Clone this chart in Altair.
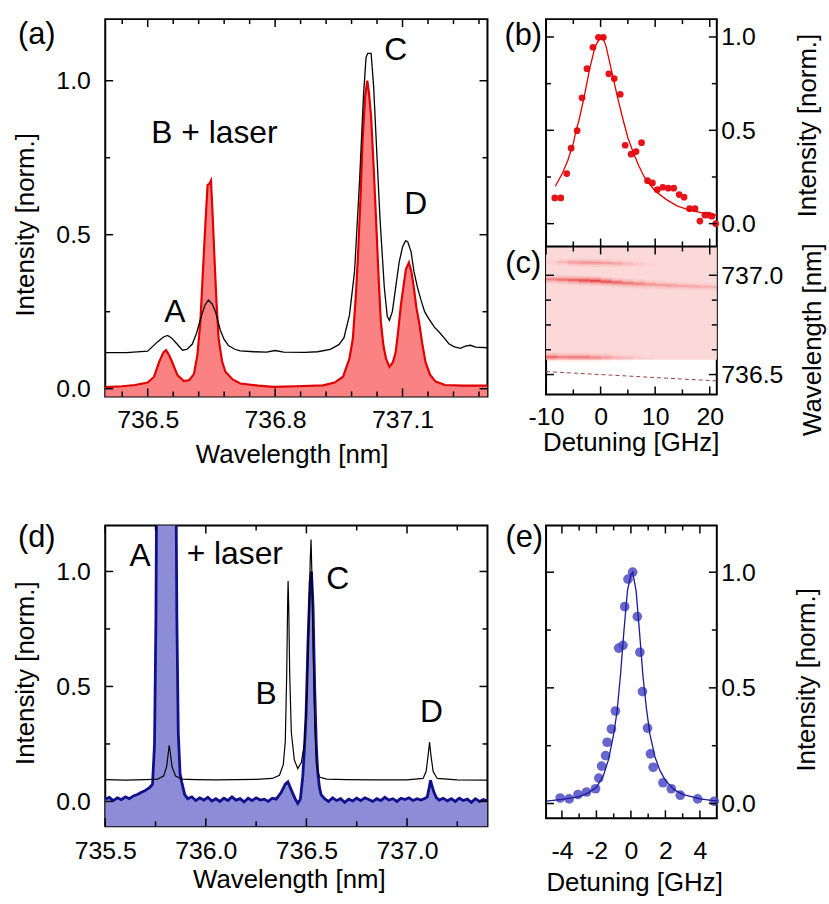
import altair as alt
import pandas as pd

FONT = "Liberation Sans"
RED = "#e00000"
RED_FILL = "#fa8282"
DOT_RED = "#e8141b"
BLUE = "#10108c"
BLUE_FILL = "#8c8cd7"
DOT_BLUE = "#4b4bc3"
LMAJ = 8
LMIN = 5

# ---------------- panel (a) data ----------------
a_black_x = [736.400, 736.450, 736.500, 736.523, 736.537, 736.547, 736.556, 736.566, 736.582, 736.593,
             736.605, 736.615, 736.624, 736.635, 736.643, 736.652, 736.660, 736.671, 736.680, 736.690,
             736.705, 736.718, 736.750, 736.780, 736.800, 736.820, 736.870, 736.900, 736.930, 736.950,
             736.962, 736.975, 736.987, 736.999, 737.008, 737.014, 737.018, 737.026, 737.032, 737.040,
             737.047, 737.057, 737.064, 737.069, 737.076, 737.084, 737.092, 737.100, 737.107, 737.112,
             737.120, 737.127, 737.135, 737.143, 737.152, 737.162, 737.175, 737.186, 737.198, 737.209,
             737.222, 737.236, 737.248, 737.260, 737.272, 737.300]
a_black_y = [0.117, 0.117, 0.122, 0.152, 0.168, 0.173, 0.165, 0.150, 0.125, 0.128,
             0.145, 0.180, 0.225, 0.272, 0.288, 0.275, 0.248, 0.190, 0.160, 0.140,
             0.128, 0.123, 0.120, 0.119, 0.124, 0.119, 0.118, 0.120, 0.128, 0.143,
             0.165, 0.238, 0.380, 0.680, 0.950, 1.075, 1.089, 1.089, 0.980, 0.750,
             0.550, 0.330, 0.235, 0.222, 0.250, 0.330, 0.410, 0.460, 0.480, 0.478,
             0.445, 0.380, 0.330, 0.290, 0.250, 0.227, 0.200, 0.184, 0.165, 0.146,
             0.136, 0.131, 0.138, 0.141, 0.135, 0.133]
a_red_x = [736.400, 736.440, 736.470, 736.500, 736.515, 736.527, 736.537, 736.543, 736.550, 736.558,
           736.570, 736.585, 736.598, 736.609, 736.617, 736.624, 736.630, 736.636, 736.641, 736.645,
           736.649, 736.653, 736.657, 736.662, 736.667, 736.675, 736.683, 736.700, 736.718, 736.760,
           736.796, 736.850, 736.913, 736.940, 736.960, 736.975, 736.983, 736.990, 736.995, 737.001,
           737.006, 737.012, 737.017, 737.021, 737.026, 737.032, 737.038, 737.044, 737.049, 737.055,
           737.061, 737.069, 737.077, 737.084, 737.090, 737.096, 737.102, 737.108, 737.115, 737.121,
           737.127, 737.133, 737.139, 737.146, 737.154, 737.165, 737.178, 737.200, 737.240, 737.300]
a_red_y = [0.005, 0.008, 0.012, 0.020, 0.039, 0.087, 0.118, 0.125, 0.110, 0.085,
           0.044, 0.025, 0.028, 0.048, 0.110, 0.216, 0.380, 0.540, 0.662, 0.665,
           0.676, 0.560, 0.430, 0.280, 0.162, 0.090, 0.055, 0.030, 0.017, 0.010,
           0.006, 0.008, 0.011, 0.020, 0.039, 0.098, 0.162, 0.300, 0.430, 0.620,
           0.807, 0.950, 1.000, 0.960, 0.883, 0.720, 0.539, 0.350, 0.216, 0.140,
           0.098, 0.071, 0.085, 0.119, 0.190, 0.270, 0.330, 0.388, 0.410, 0.380,
           0.324, 0.260, 0.216, 0.150, 0.087, 0.045, 0.023, 0.012, 0.010, 0.010]
a_txt = ["A", "B + laser", "C", "D"]
a_txt_x = [736.564, 736.657, 737.084, 737.131]
a_txt_y = [0.248, 0.829, 1.098, 0.598]
a_xmaj = [736.5, 736.8, 737.1]
a_xmin = [736.44, 736.56, 736.62, 736.68, 736.74, 736.86, 736.92, 736.98, 737.04, 737.16, 737.22, 737.28]

# ---------------- panel (b) data ----------------
b_pts_x = [-8.4, -7.3, -6.2, -5.4, -4.3, -3.4, -2.5, -1.4, -0.4, 0.5, 1.5, 2.5, 3.6, 4.5, 5.6, 6.5,
           7.5, 8.6, 9.5, 10.4, 11.4, 12.4, 13.4, 14.4, 15.3, 16.3, 17.3, 18.2, 19.1, 19.8, 20.4, 21.1]
b_pts_y = [0.138, 0.138, 0.268, 0.404, 0.498, 0.674, 0.830, 0.945, 0.998, 0.998, 0.803, 0.777, 0.693,
           0.420, 0.372, 0.386, 0.434, 0.230, 0.218, 0.182, 0.195, 0.190, 0.190, 0.156, 0.142, 0.080,
           0.080, 0.014, 0.046, 0.046, 0.040, 0.000]
b_fit_x = [-8.3, -7, -6, -5, -4.5, -4, -3, -2, -1, 0, 0.5, 1, 2, 3, 4, 5, 6, 7, 8, 9, 10, 12, 14, 16,
           18, 20, 21.3]
b_fit_y = [0.20, 0.27, 0.34, 0.43, 0.50, 0.55, 0.68, 0.83, 0.95, 1.00, 0.99, 0.95, 0.82, 0.69, 0.57,
           0.46, 0.38, 0.31, 0.25, 0.21, 0.175, 0.13, 0.095, 0.075, 0.062, 0.05, 0.045]

# ---------------- panel (c) data ----------------
c_edges = [-10, -8, -6, -4, -2, 0, 2, 4, 6, 8, 10, 12, 14, 16, 18, 20, 21.3]
c_main_y = [736.980, 736.978, 736.976, 736.974, 736.972, 736.968, 736.964, 736.960, 736.957, 736.954,
            736.951, 736.948, 736.946, 736.944, 736.942, 736.940]
c_main_v = [0.45, 0.55, 0.70, 0.85, 0.90, 0.80, 0.65, 0.55, 0.45, 0.35, 0.30, 0.28, 0.25, 0.22, 0.20, 0.18]
c_top_y = [737.067, 737.066, 737.065, 737.064, 737.063, 737.062, 737.060, 737.058, 737.056, 737.054,
           737.052, 737.050, 737.048, 737.046, 737.044, 737.042]
c_top_v = [0.05, 0.15, 0.30, 0.35, 0.35, 0.30, 0.25, 0.15, 0.08, 0.03, 0.0, 0.0, 0.0, 0.0, 0.0, 0.0]
c_bot_y = [736.588, 736.588, 736.587, 736.587, 736.586, 736.586, 736.585, 736.585, 736.585, 736.585,
           736.585, 736.585, 736.585, 736.585, 736.585, 736.585]
c_bot_v = [0.65, 0.45, 0.50, 0.50, 0.40, 0.30, 0.18, 0.12, 0.06, 0.03, 0.0, 0.0, 0.0, 0.0, 0.0, 0.0]
c_region_x = [-10, 21.3]
c_region_y = [736.575, 737.145]
c_laser_x = [-10, 21.3]
c_laser_y = [736.515, 736.468]
bc_xmaj = [-10, 0, 10, 20]
bc_xmin = [-5, 5, 15]
c_ymaj = [736.5, 737.0]
c_ymin = [736.625, 736.75, 736.875]

# ---------------- panel (d) data ----------------
d_black_x = [735.500, 735.600, 735.700, 735.760, 735.790, 735.805, 735.814, 735.818, 735.823, 735.832,
             735.850, 735.880, 735.950, 736.050, 736.150, 736.250, 736.330, 736.366, 736.385, 736.395,
             736.402, 736.407, 736.409, 736.412, 736.417, 736.425, 736.440, 736.457, 736.475, 736.490,
             736.503, 736.512, 736.519, 736.523, 736.527, 736.533, 736.541, 736.550, 736.565, 736.600,
             736.700, 736.850, 737.000, 737.080, 737.095, 737.105, 737.112, 737.119, 737.130, 737.150,
             737.250, 737.400]
d_black_y = [0.095, 0.093, 0.095, 0.097, 0.110, 0.150, 0.215, 0.244, 0.215, 0.150,
             0.110, 0.097, 0.095, 0.094, 0.095, 0.096, 0.100, 0.114, 0.160, 0.260,
             0.550, 0.880, 0.958, 0.850, 0.550, 0.300, 0.180, 0.143, 0.170, 0.250,
             0.480, 0.780, 1.050, 1.139, 1.000, 0.700, 0.350, 0.160, 0.106, 0.097,
             0.095, 0.094, 0.094, 0.100, 0.130, 0.200, 0.258, 0.200, 0.130, 0.100,
             0.094, 0.093]
d_blue_x = [735.50, 735.52, 735.54, 735.56, 735.58, 735.60, 735.62, 735.64, 735.66, 735.68,
            735.70, 735.72, 735.735, 735.745, 735.752, 735.757, 735.850, 735.856, 735.863, 735.872,
            735.880, 735.895, 735.91, 735.93, 735.95, 735.97, 735.99, 736.01, 736.03, 736.05,
            736.07, 736.09, 736.11, 736.13, 736.15, 736.17, 736.19, 736.21, 736.23, 736.25,
            736.27, 736.29, 736.31, 736.33, 736.35, 736.375, 736.395, 736.408, 736.42, 736.432,
            736.445, 736.457, 736.470, 736.482, 736.490, 736.498, 736.508, 736.518, 736.525, 736.533,
            736.541, 736.549, 736.556, 736.565, 736.573, 736.59, 736.61, 736.63, 736.65, 736.67,
            736.69, 736.71, 736.73, 736.75, 736.77, 736.79, 736.81, 736.83, 736.85, 736.87,
            736.89, 736.91, 736.93, 736.95, 736.97, 736.99, 737.01, 737.03, 737.05, 737.07,
            737.09, 737.101, 737.110, 737.117, 737.125, 737.134, 737.145, 737.16, 737.18, 737.20,
            737.22, 737.24, 737.26, 737.28, 737.30, 737.32, 737.34, 737.36, 737.38, 737.40]
d_blue_y = [0.010, 0.018, 0.004, 0.016, 0.008, 0.020, 0.012, 0.024, 0.030, 0.040,
            0.048, 0.060, 0.075, 0.250, 0.800, 1.600, 1.600, 0.800, 0.300, 0.120,
            0.085, 0.030, 0.012, 0.020, 0.004, 0.016, 0.006, 0.018, 0.002, 0.012,
            0.000, 0.014, 0.004, 0.020, 0.006, 0.012, -0.002, 0.014, 0.004, 0.016,
            0.006, 0.010, 0.000, 0.014, 0.010, 0.040, 0.075, 0.085, 0.060, 0.035,
            0.010, -0.009, 0.010, 0.110, 0.230, 0.370, 0.700, 0.950, 1.000, 0.850,
            0.500, 0.250, 0.130, 0.060, 0.030, 0.012, 0.000, 0.016, 0.004, 0.012,
            -0.004, 0.010, 0.002, 0.014, 0.004, 0.016, 0.008, 0.000, 0.012, 0.004,
            0.018, 0.006, 0.012, 0.000, 0.014, 0.008, 0.016, 0.004, 0.012, 0.006,
            0.014, 0.020, 0.060, 0.092, 0.065, 0.040, 0.018, 0.006, 0.014, 0.002,
            0.012, 0.000, 0.014, 0.004, 0.010, -0.004, 0.012, 0.000, 0.008, 0.002]
d_txt = ["A", "+ laser", "B", "C", "D"]
d_txt_x = [735.673, 736.144, 736.300, 736.655, 737.122]
d_txt_y = [1.065, 1.074, 0.468, 0.965, 0.388]
d_xmaj = [735.5, 736.0, 736.5, 737.0]
d_xmin = [735.75, 736.25, 736.75, 737.25]

# ---------------- panel (e) data ----------------
e_pts_x = [-4.1, -3.58, -3.07, -2.57, -2.05, -1.86, -1.7, -1.47, -1.38, -1.13, -0.9, -0.71, -0.46,
           -0.36, -0.17, 0.1, 0.37, 0.52, 0.67, 0.96, 1.13, 1.29, 1.86, 2.34, 2.86, 3.87, 4.83]
e_pts_y = [0.024, 0.020, 0.039, 0.050, 0.064, 0.110, 0.162, 0.207, 0.265, 0.322, 0.400, 0.672, 0.684,
           0.851, 0.970, 1.000, 0.808, 0.654, 0.484, 0.326, 0.215, 0.157, 0.090, 0.064, 0.036, 0.020, 0.010]
e_fit_x = [-4.9, -4, -3, -2.5, -2, -1.6, -1.3, -1.0, -0.8, -0.6, -0.4, -0.2, 0, 0.1, 0.3, 0.5, 0.7,
           0.9, 1.1, 1.4, 1.7, 2, 2.5, 3, 4, 5]
e_fit_y = [0.010, 0.018, 0.030, 0.045, 0.070, 0.120, 0.190, 0.300, 0.400, 0.560, 0.750, 0.920, 0.990,
           1.000, 0.920, 0.740, 0.550, 0.410, 0.300, 0.200, 0.140, 0.100, 0.060, 0.040, 0.020, 0.010]
e_xmaj = [-4, -2, 0, 2, 4]
e_xmin = [-3, -1, 1, 3]

y_maj = [0.0, 0.5, 1.0]
y_min = [0.25, 0.75]
panel_labels = ["(a)", "(b)", "(c)", "(d)", "(e)"]


def lab_axis(orient, values, pad, title, tx, ty, fmt=".1f"):
    kw = dict(orient=orient, values=values, ticks=False, domain=False, grid=False,
              labels=True, labelPadding=pad, labelFlush=False, labelOverlap=False,
              title=title, titleX=tx, titleY=ty, titleAlign="center", titleBaseline="middle",
              titleAngle=270 if orient in ("left", "right") else 0)
    if fmt == "int":
        kw["labelExpr"] = "'' + datum.value"
    else:
        kw["format"] = fmt
    return alt.Axis(**kw)


def xtick(vals, scale, y0, y1):
    return alt.Chart(pd.DataFrame({"v": vals})).mark_rule(color="black", strokeWidth=1.5).encode(
        x=alt.X("v:Q", scale=scale, axis=None), y=alt.value(y0), y2=alt.value(y1))


def ytick(vals, scale, x0, x1):
    return alt.Chart(pd.DataFrame({"v": vals})).mark_rule(color="black", strokeWidth=1.5).encode(
        y=alt.Y("v:Q", scale=scale, axis=None), x=alt.value(x0), x2=alt.value(x1))


def xticks_edges(vmaj, vmin, scale, H):
    out = []
    for vals, L in ((vmaj, LMAJ), (vmin, LMIN)):
        out += [xtick(vals, scale, H, H - L), xtick(vals, scale, 0, L)]
    return out


def yticks_edges(vmaj, vmin, scale, W):
    out = []
    for vals, L in ((vmaj, LMAJ), (vmin, LMIN)):
        out += [ytick(vals, scale, 0, L), ytick(vals, scale, W, W - L)]
    return out


def plabel(text, dx, dy):
    return alt.Chart(pd.DataFrame({"t": [text]})).mark_text(
        font=FONT, fontSize=31, color="black", align="center", baseline="middle"
    ).encode(x=alt.value(dx), y=alt.value(dy), text="t:N")


def X0(s):
    return alt.X("x:Q", scale=s, axis=None)


def Y0(s, f="y"):
    return alt.Y(f + ":Q", scale=s, axis=None)


# ================= panel (a) =================
WA, HA = 385, 380
xa = alt.Scale(domain=[736.4, 737.3], nice=False, zero=False)
ya = alt.Scale(domain=[-0.025, 1.2], nice=False, zero=False)
dfa_b = pd.DataFrame({"x": a_black_x, "y": a_black_y})
dfa_r = pd.DataFrame({"x": a_red_x, "y": a_red_y})
dfa_t = pd.DataFrame({"x": a_txt_x, "y": a_txt_y, "t": a_txt})

pa = alt.layer(
    alt.Chart(dfa_r).mark_area(color=RED_FILL, clip=True).encode(x=X0(xa), y=Y0(ya), y2=alt.datum(-0.2)),
    alt.Chart(dfa_r).mark_line(color=RED, strokeWidth=2.2, clip=True).encode(x=X0(xa), y=Y0(ya)),
    alt.Chart(dfa_b).mark_line(color="black", strokeWidth=1.3, clip=True).encode(x=X0(xa), y=Y0(ya)),
    alt.Chart(dfa_t).mark_text(font=FONT, fontSize=32, color="black").encode(x=X0(xa), y=Y0(ya), text="t:N"),
    plabel(panel_labels[0], -69, 16.5),
    *xticks_edges(a_xmaj, a_xmin, xa, HA),
    *yticks_edges(y_maj, y_min, ya, WA),
    alt.Chart(dfa_b).mark_point(opacity=0, size=1).encode(
        x=alt.X("x:Q", scale=xa, axis=lab_axis("bottom", a_xmaj, 11, "Wavelength [nm]", 187.7, 58.3)),
        y=alt.Y("y:Q", scale=ya, axis=lab_axis("left", y_maj, 15, "Intensity [norm.]", -80, 206.7))),
).resolve_axis(x="independent", y="independent").properties(width=WA, height=HA)

# ================= panel (b)+(c) =================
WB, HB = 172, 378
SPLIT = 149  # height of the (c) part
YS = HB - SPLIT
xbc = alt.Scale(domain=[-10, 21.3], nice=False, zero=False)
yb = alt.Scale(domain=[-0.9149, 1.0957], nice=False, zero=False)
yc = alt.Scale(domain=[736.4, 738.29], nice=False, zero=False)
dfb_p = pd.DataFrame({"x": b_pts_x, "yb": b_pts_y})
dfb_f = pd.DataFrame({"x": b_fit_x, "yb": b_fit_y})
seg_rows = []
for ys_, vs_ in ((c_main_y, c_main_v), (c_top_y, c_top_v), (c_bot_y, c_bot_v)):
    for i in range(len(vs_)):
        seg_rows.append({"x": c_edges[i], "x1": c_edges[i + 1], "yc": ys_[i], "v": vs_[i]})
dfc_s = pd.DataFrame(seg_rows)
dfc_bg = pd.DataFrame({"x": [c_region_x[0]], "x1": [c_region_x[1]],
                       "y0": [c_region_y[0]], "y1": [c_region_y[1]]})
dfc_l = pd.DataFrame({"x": c_laser_x, "yc": c_laser_y})


def streak(half, factor):
    return alt.Chart(dfc_s).transform_calculate(
        lo=f"datum.yc - {half}", hi=f"datum.yc + {half}", op=f"datum.v * {factor}"
    ).mark_rect(color="#e41a1a", strokeWidth=0).encode(
        x=X0(xbc), x2="x1:Q",
        y=alt.Y("lo:Q", scale=yc, axis=None), y2="hi:Q",
        opacity=alt.Opacity("op:Q", scale=None))


bc_ticks = []
for vals, L in ((bc_xmaj, LMAJ), (bc_xmin, LMIN)):
    bc_ticks += [xtick(vals, xbc, 0, L), xtick(vals, xbc, HB, HB - L),
                 xtick(vals, xbc, YS, YS - L), xtick(vals, xbc, YS, YS + L)]
bc_ticks += yticks_edges(y_maj, y_min, yb, WB)
bc_ticks += yticks_edges(c_ymaj, c_ymin, yc, WB)

pbc = alt.layer(
    alt.Chart(dfc_bg).mark_rect(color="#fcd9d9", strokeWidth=0).encode(
        x=X0(xbc), x2="x1:Q", y=alt.Y("y0:Q", scale=yc, axis=None), y2="y1:Q"),
    streak(0.022, 0.18),
    streak(0.012, 0.35),
    streak(0.005, 0.6),
    alt.Chart(dfc_l).mark_line(color="#a04040", strokeWidth=1, strokeDash=[4, 3]).encode(
        x=X0(xbc), y=Y0(yc, "yc")),
    alt.Chart(dfb_p).mark_circle(color=DOT_RED, size=46, opacity=1).encode(x=X0(xbc), y=Y0(yb, "yb")),
    alt.Chart(dfb_f).mark_line(color=RED, strokeWidth=1.3).encode(x=X0(xbc), y=Y0(yb, "yb")),
    alt.Chart(dfc_bg).mark_rule(color="black", strokeWidth=2).encode(
        y=alt.Y("y1:Q", scale=yc, axis=None), x=alt.value(0), x2=alt.value(WB)),
    plabel(panel_labels[1], -23, 17),
    plabel(panel_labels[2], -23, YS + 18),
    *bc_ticks,
    alt.Chart(dfb_p).mark_point(opacity=0, size=1).encode(
        x=alt.X("x:Q", scale=xbc,
                axis=lab_axis("bottom", bc_xmaj, 10, "Detuning [GHz]", 85.3, 48, fmt="int")),
        y=alt.Y("yb:Q", scale=yb, axis=lab_axis("right", y_maj, 4, "Intensity [norm.]", 91.7, 106.7))),
    alt.Chart(dfc_l).mark_point(opacity=0, size=1).encode(
        x=alt.X("x:Q", scale=xbc, axis=None),
        y=alt.Y("yc:Q", scale=yc, axis=lab_axis("right", c_ymaj, 4, "Wavelength [nm]", 96.7, 322.3))),
).resolve_scale(y="independent").resolve_axis(x="independent", y="independent").properties(width=WB, height=HB)

# ================= panel (d) =================
HD = 303
xd = alt.Scale(domain=[735.5, 737.4], nice=False, zero=False)
yd = alt.Scale(domain=[-0.108, 1.2], nice=False, zero=False)
dfd_b = pd.DataFrame({"x": d_black_x, "y": d_black_y})
dfd_u = pd.DataFrame({"x": d_blue_x, "y": d_blue_y})
dfd_t = pd.DataFrame({"x": d_txt_x, "y": d_txt_y, "t": d_txt})

pdd = alt.layer(
    alt.Chart(dfd_u).mark_area(color=BLUE_FILL, clip=True).encode(x=X0(xd), y=Y0(yd), y2=alt.datum(-0.3)),
    alt.Chart(dfd_u).mark_line(color=BLUE, strokeWidth=2.8, clip=True).encode(x=X0(xd), y=Y0(yd)),
    alt.Chart(dfd_b).mark_line(color="black", strokeWidth=1.2, clip=True).encode(x=X0(xd), y=Y0(yd)),
    alt.Chart(dfd_t).mark_text(font=FONT, fontSize=32, color="black").encode(x=X0(xd), y=Y0(yd), text="t:N"),
    plabel(panel_labels[3], -69, 13),
    *xticks_edges(d_xmaj, d_xmin, xd, HD),
    *yticks_edges(y_maj, y_min, yd, WA),
    alt.Chart(dfd_b).mark_point(opacity=0, size=1).encode(
        x=alt.X("x:Q", scale=xd, axis=lab_axis("bottom", d_xmaj, 12, "Wavelength [nm]", 185, 53.7)),
        y=alt.Y("y:Q", scale=yd, axis=lab_axis("left", y_maj, 15, "Intensity [norm.]", -80, 148.3))),
).resolve_axis(x="independent", y="independent").properties(width=WA, height=HD)

# ================= panel (e) =================
HE = 295
xe = alt.Scale(domain=[-4.92, 4.98], nice=False, zero=False)
ye = alt.Scale(domain=[-0.064, 1.202], nice=False, zero=False)
dfe_p = pd.DataFrame({"x": e_pts_x, "y": e_pts_y})
dfe_f = pd.DataFrame({"x": e_fit_x, "y": e_fit_y})

pe = alt.layer(
    alt.Chart(dfe_p).mark_circle(color=DOT_BLUE, size=95, opacity=0.85).encode(x=X0(xe), y=Y0(ye)),
    alt.Chart(dfe_f).mark_line(color="#1a1a9a", strokeWidth=1.3).encode(x=X0(xe), y=Y0(ye)),
    plabel(panel_labels[4], -22, 13),
    *xticks_edges(e_xmaj, e_xmin, xe, HE),
    *yticks_edges(y_maj, y_min, ye, WB),
    alt.Chart(dfe_p).mark_point(opacity=0, size=1).encode(
        x=alt.X("x:Q", scale=xe, axis=lab_axis("bottom", e_xmaj, 20, "Detuning [GHz]", 88.7, 65, fmt="int")),
        y=alt.Y("y:Q", scale=ye, axis=lab_axis("right", y_maj, 4, "Intensity [norm.]", 90, 155))),
).resolve_axis(x="independent", y="independent").properties(width=WB, height=HE)

chart = alt.concat(
    pa, pbc, pdd, pe, columns=2, spacing={"row": 130, "column": 59}, bounds="flush"
).properties(
    padding={"left": 12, "top": 14, "right": 2, "bottom": 2}
).configure_view(
    stroke="black", strokeWidth=2
).configure_axis(
    labelFont=FONT, labelFontSize=25, titleFont=FONT, titleFontSize=26,
    labelColor="black", titleColor="black", titleFontWeight="normal"
)

chart.save("out.html", embed_options={"renderer": "svg", "actions": False})
